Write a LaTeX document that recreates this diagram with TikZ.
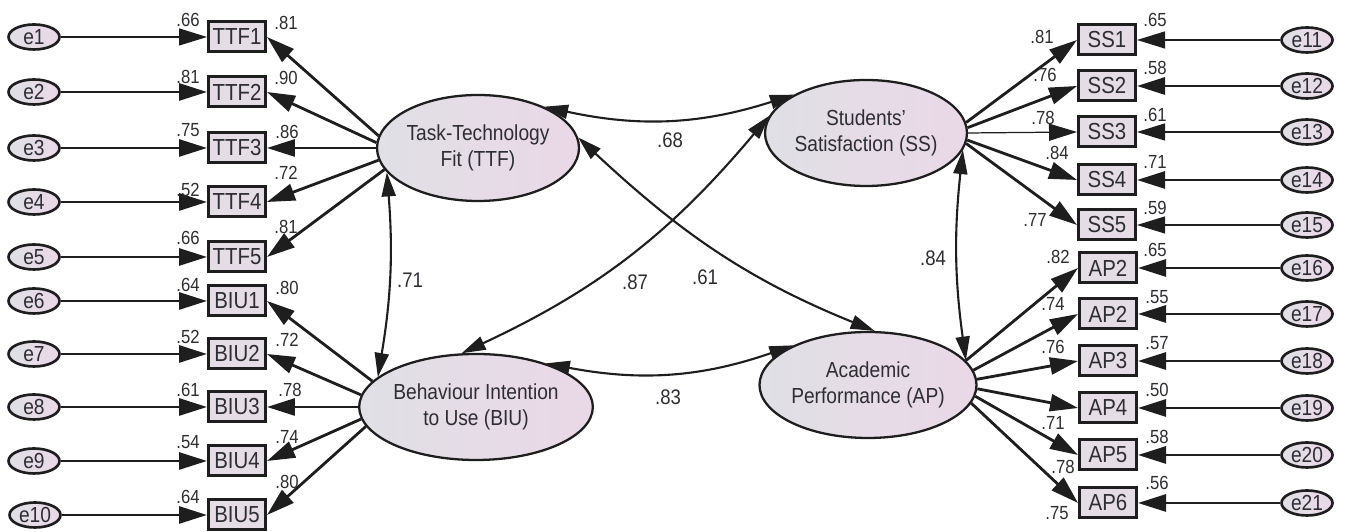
\documentclass[tikz,border=0pt]{standalone}
\usepackage{fontspec}
\setmainfont{Liberation Sans}[FakeStretch=0.88]
\usetikzlibrary{arrows.meta,shapes.geometric}

\definecolor{inkc}{RGB}{30,30,30}
\definecolor{txtc}{RGB}{45,45,50}
\definecolor{fillL}{RGB}{224,224,230}
\definecolor{fillR}{RGB}{234,216,231}
\definecolor{boxc}{RGB}{229,221,229}

\begin{document}
\begin{tikzpicture}[x=0.1mm,y=-0.1mm,
    font=\fontsize{6.2}{7.6}\selectfont, text=txtc, draw=inkc,
    latent/.style={ellipse, draw=inkc, line width=0.65pt, minimum width=20mm,
      minimum height=10.6mm, inner sep=0pt, align=center,
      left color=fillL, right color=fillR},
    obs/.style={rectangle, draw=inkc, line width=0.85pt, minimum width=5.7mm,
      minimum height=3mm, inner sep=0pt, fill=boxc,
      font=\fontsize{6.6}{7}\selectfont},
    err/.style={ellipse, draw=inkc, line width=0.75pt, minimum width=5.1mm,
      minimum height=2.5mm, inner sep=0pt, left color=fillL, right color=fillR},
    coef/.style={font=\fontsize{5.4}{6}\selectfont, inner sep=0pt},
    corlab/.style={font=\fontsize{6}{7}\selectfont, inner sep=0pt},
    load/.style={-{Triangle[length=2.8mm,width=1.7mm]}, line width=0.8pt, inkc},
    thinload/.style={load, line width=0.35pt},
    cor/.style={{Triangle[length=2.4mm,width=1.4mm]}-{Triangle[length=2.4mm,width=1.4mm]},
      line width=0.6pt, inkc}]
  \useasboundingbox (0,0) rectangle (1347,532);

  % latent variables
  \node[latent] (TTF) at (478,148) {Task-Technology\\Fit (TTF)};
  \node[latent] (BIU) at (476,407) {Behaviour Intention\\to Use (BIU)};
  \node[latent] (SS) at (866,133) {Students'\\Satisfaction (SS)};
  \node[latent] (AP) at (868,385) {Academic\\Performance (AP)};

  % left indicators
  \node[obs] (TTF1) at (237,37) {TTF1};
  \node[obs] (TTF2) at (237,92) {TTF2};
  \node[obs] (TTF3) at (237,148) {TTF3};
  \node[obs] (TTF4) at (237,202) {TTF4};
  \node[obs] (TTF5) at (237,257) {TTF5};
  \node[obs] (BIU1) at (237,301) {BIU1};
  \node[obs] (BIU2) at (237,354) {BIU2};
  \node[obs] (BIU3) at (237,407) {BIU3};
  \node[obs] (BIU4) at (237,461) {BIU4};
  \node[obs] (BIU5) at (237,515) {BIU5};

  \node[err] (e1) at (34,37) {e1};
  \node[err] (e2) at (34,92) {e2};
  \node[err] (e3) at (34,148) {e3};
  \node[err] (e4) at (34,202) {e4};
  \node[err] (e5) at (34,257) {e5};
  \node[err] (e6) at (34,301) {e6};
  \node[err] (e7) at (34,354) {e7};
  \node[err] (e8) at (34,407) {e8};
  \node[err] (e9) at (34,461) {e9};
  \node[err] (e10) at (35,515) {e10};

  % right indicators
  \node[obs] (SS1) at (1107,40) {SS1};
  \node[obs] (SS2) at (1107,86) {SS2};
  \node[obs] (SS3) at (1107,132) {SS3};
  \node[obs] (SS4) at (1107,180) {SS4};
  \node[obs] (SS5) at (1107,225) {SS5};
  \node[obs] (AP1) at (1108,268) {AP2};
  \node[obs] (AP2) at (1108,314) {AP2};
  \node[obs] (AP3) at (1108,361) {AP3};
  \node[obs] (AP4) at (1108,408) {AP4};
  \node[obs] (AP5) at (1108,455) {AP5};
  \node[obs] (AP6) at (1108,503) {AP6};

  \node[err] (e11) at (1307,40) {e11};
  \node[err] (e12) at (1307,86) {e12};
  \node[err] (e13) at (1307,132) {e13};
  \node[err] (e14) at (1307,180) {e14};
  \node[err] (e15) at (1307,225) {e15};
  \node[err] (e16) at (1307,268) {e16};
  \node[err] (e17) at (1307,314) {e17};
  \node[err] (e18) at (1307,361) {e18};
  \node[err] (e19) at (1307,408) {e19};
  \node[err] (e20) at (1307,455) {e20};
  \node[err] (e21) at (1307,503) {e21};

  % error terms
  \draw[thinload] (e1) -- (TTF1);
  \draw[load] (e2) -- (TTF2);
  \draw[load] (e3) -- (TTF3);
  \draw[load] (e4) -- (TTF4);
  \draw[load] (e5) -- (TTF5);
  \draw[load] (e6) -- (BIU1);
  \draw[load] (e7) -- (BIU2);
  \draw[load] (e8) -- (BIU3);
  \draw[load] (e9) -- (BIU4);
  \draw[load] (e10) -- (BIU5);
  \draw[thinload] (e11) -- (SS1);
  \draw[load] (e12) -- (SS2);
  \draw[thinload] (e13) -- (SS3);
  \draw[load] (e14) -- (SS4);
  \draw[thinload] (e15) -- (SS5);
  \draw[load] (e16) -- (AP1);
  \draw[load] (e17) -- (AP2);
  \draw[load] (e18) -- (AP3);
  \draw[load] (e19) -- (AP4);
  \draw[load] (e20) -- (AP5);
  \draw[load] (e21) -- (AP6);

  % loadings
  \draw[load] (TTF.173) -- (TTF1.east);
  \draw[load] (TTF.177) -- (TTF2.east);
  \draw[load] (TTF.180) -- (TTF3.east);
  \draw[load] (TTF.187) -- (TTF4.east);
  \draw[load] (TTF.193) -- (TTF5.east);
  \draw[load] (BIU.166) -- (BIU1.east);
  \draw[load] (BIU.174) -- (BIU2.east);
  \draw[load] (BIU.180) -- (BIU3.east);
  \draw[load] (BIU.186) -- (BIU4.east);
  \draw[load] (BIU.190) -- (BIU5.east);
  \draw[load] (SS.6) -- (SS1.west);
  \draw[load] (SS.3) -- (SS2.west);
  \draw[thinload] (SS.0) -- (SS3.west);
  \draw[load] (SS.-4) -- (SS4.west);
  \draw[load] (SS.-6) -- (SS5.west);
  \draw[load] (AP.14) -- (AP1.west);
  \draw[load] (AP.8) -- (AP2.west);
  \draw[load] (AP.3) -- (AP3.west);
  \draw[load] (AP.-2) -- (AP4.west);
  \draw[load] (AP.-6) -- (AP5.west);
  \draw[load] (AP.-10) -- (AP6.west);

  % correlations
  \draw[cor] (TTF.32) to[bend right=15] (SS.152);
  \draw[cor] (BIU.32) to[bend right=15] (AP.152);
  \draw[cor] (TTF.195) to[bend left=7] (BIU.163);
  \draw[cor] (SS.-10) to[bend right=7] (AP.14);
  \draw[cor] (TTF.6) to[out=-43,in=158] (AP.83);
  \draw[cor] (BIU.105) to[out=25,in=230] (SS.170);

  \node[corlab] (r1) at (670,140) {.68};
  \node[corlab] (r2) at (668,397) {.83};
  \node[corlab] (r3) at (410,280) {.71};
  \node[corlab] (r4) at (933,258) {.84};
  \node[corlab] (r5) at (635,282) {.87};
  \node[corlab] (r6) at (705,277) {.61};

  % squared multiple correlations, left
  \node[coef] (s1) at (188,20) {.66};
  \node[coef] (s2) at (188,77) {.81};
  \node[coef] (s3) at (188,130) {.75};
  \node[coef] (s4) at (188,190) {.52};
  \node[coef] (s5) at (188,238) {.66};
  \node[coef] (s6) at (188,285) {.64};
  \node[coef] (s7) at (188,337) {.52};
  \node[coef] (s8) at (188,390) {.61};
  \node[coef] (s9) at (188,442) {.54};
  \node[coef] (s10) at (188,497) {.64};
  % loadings, left
  \node[coef] (l1) at (286,23) {.81};
  \node[coef] (l2) at (286,78) {.90};
  \node[coef] (l3) at (287,132) {.86};
  \node[coef] (l4) at (286,173) {.72};
  \node[coef] (l5) at (286,227) {.81};
  \node[coef] (l6) at (287,288) {.80};
  \node[coef] (l7) at (287,340) {.72};
  \node[coef] (l8) at (290,390) {.78};
  \node[coef] (l9) at (287,437) {.74};
  \node[coef] (l10) at (287,482) {.80};
  % loadings, right
  \node[coef] (l11) at (1042,37) {.81};
  \node[coef] (l12) at (1045,75) {.76};
  \node[coef] (l13) at (1043,118) {.78};
  \node[coef] (l14) at (1057,153) {.84};
  \node[coef] (l15) at (1035,220) {.77};
  \node[coef] (l16) at (1058,257) {.82};
  \node[coef] (l17) at (1053,304) {.74};
  \node[coef] (l18) at (1053,347) {.76};
  \node[coef] (l19) at (1053,423) {.71};
  \node[coef] (l20) at (1063,467) {.78};
  \node[coef] (l21) at (1057,513) {.75};
  % squared multiple correlations, right
  \node[coef] (s11) at (1155,20) {.65};
  \node[coef] (s12) at (1155,68) {.58};
  \node[coef] (s13) at (1155,115) {.61};
  \node[coef] (s14) at (1155,162) {.71};
  \node[coef] (s15) at (1155,208) {.59};
  \node[coef] (s16) at (1155,250) {.65};
  \node[coef] (s17) at (1157,297) {.55};
  \node[coef] (s18) at (1157,343) {.57};
  \node[coef] (s19) at (1157,390) {.50};
  \node[coef] (s20) at (1157,437) {.58};
  \node[coef] (s21) at (1157,483) {.56};
\end{tikzpicture}
\end{document}
